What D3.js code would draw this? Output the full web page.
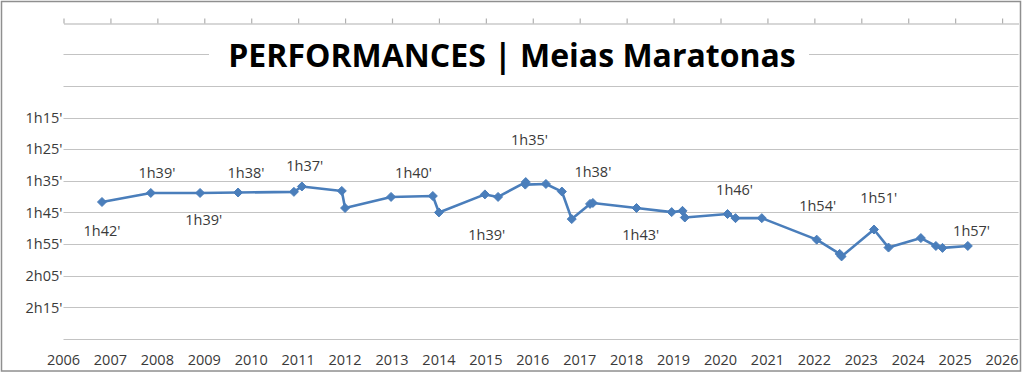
<!DOCTYPE html>
<html>
<head>
<meta charset="utf-8">
<script src="https://cdn.jsdelivr.net/npm/d3@7"></script>
<style>
  html, body { margin: 0; padding: 0; background: #fff; }
  svg { display: block; }
  text { font-family: "Open Sans", "Noto Sans", sans-serif; }
</style>
</head>
<body>
<svg id="chart" width="1024" height="382"></svg>
<script>
// ---- DATA ----
const chartTitle = "PERFORMANCES | Meias Maratonas";
const xTickYears = [2006, 2007, 2008, 2009, 2010, 2011, 2012, 2013, 2014, 2015, 2016,
                    2017, 2018, 2019, 2020, 2021, 2022, 2023, 2024, 2025, 2026];
const yTickMinutes = [75, 85, 95, 105, 115, 125, 135];
const gridMinutes = [55, 65, 75, 85, 95, 105, 115, 125, 135, 145];

// race dates (decimal years) and finish times (minutes)
const raceDates = [2006.82, 2007.86, 2008.91, 2009.72, 2010.91, 2011.08, 2011.93, 2012.00,
                   2012.98, 2013.87, 2014.00, 2014.98, 2015.26, 2015.85, 2015.84, 2016.28,
                   2016.62, 2016.83, 2017.22, 2017.28, 2018.21, 2018.96, 2019.19, 2019.24,
                   2020.15, 2020.32, 2020.88, 2022.05, 2022.54, 2022.58, 2023.27, 2023.58,
                   2024.27, 2024.59, 2024.73, 2025.27];
const raceTimes = [101.7, 98.85, 98.85, 98.7, 98.5, 96.8, 98.2, 103.6,
                   100.1, 99.8, 105.0, 99.3, 100.1, 95.4, 96.2, 96.0,
                   98.4, 107.1, 102.3, 102.0, 103.6, 104.9, 104.5, 106.6,
                   105.5, 106.8, 106.8, 113.6, 118.1, 118.9, 110.4, 116.1,
                   113.1, 115.6, 116.2, 115.6];

// annotation labels (text, date, time-position)
const noteTexts = ["1h42'", "1h39'", "1h39'", "1h38'", "1h37'", "1h40'", "1h39'",
                   "1h35'", "1h38'", "1h43'", "1h46'", "1h54'", "1h51'", "1h57'"];
const noteDates = [2006.82, 2007.99, 2008.99, 2009.89, 2011.14, 2013.46, 2015.02,
                   2015.93, 2017.28, 2018.30, 2020.30, 2022.07, 2023.37, 2025.35];
const noteTimes = [110.9, 92.5, 107.4, 92.5, 90.3, 92.5, 112.1,
                   82.1, 92.2, 112.1, 97.9, 103.0, 100.4, 110.9];

// ---- LAYOUT ----
const svg = d3.select("#chart");
const pLeft = 63.5, pRight = 1018.5, pTop = 22.6, pBottom = 339;
const x = d3.scaleLinear().domain([2006, 2026.35]).range([pLeft, pRight]);
const y = d3.scaleLinear().domain([45, 145]).range([pTop, pBottom]);
const fmt = m => `${Math.floor(m / 60)}h${String(Math.round(m % 60)).padStart(2, "0")}'`;

const gridColor = "#c3c3c3";
const textColor = "#3a3a3a";
const lineColor = "#4a7ebb";

// outer border
svg.append("rect")
  .attr("x", 1.5).attr("y", 1.5).attr("width", 1019).attr("height", 369.5)
  .attr("fill", "#fff").attr("stroke", "#8f8f8f").attr("stroke-width", 1.5);

// gridlines
svg.append("g").selectAll("line").data(gridMinutes).join("line")
  .attr("x1", pLeft).attr("x2", pRight)
  .attr("y1", d => Math.round(y(d)) + 0.5).attr("y2", d => Math.round(y(d)) + 0.5)
  .attr("stroke", gridColor).attr("stroke-width", 1.2);

// top category axis (reversed value axis crosses at top)
const topAxis = svg.append("g")
  .attr("transform", `translate(0,${Math.round(pTop) + 0.5})`)
  .call(d3.axisTop(x).tickValues(xTickYears).tickSize(5).tickSizeOuter(0).tickFormat(""));
topAxis.selectAll("path, line").attr("stroke", "#b0b0b0").attr("stroke-width", 1.2);

// y tick labels
svg.append("g").selectAll("text").data(yTickMinutes).join("text")
  .attr("x", pLeft - 1).attr("y", d => y(d))
  .attr("dy", "0.36em").attr("text-anchor", "end")
  .attr("font-size", 14.5).attr("fill", textColor)
  .text(fmt);

// x tick labels (low position)
svg.append("g").selectAll("text").data(xTickYears).join("text")
  .attr("x", d => x(d)).attr("y", 360)
  .attr("dy", "0.36em").attr("text-anchor", "middle")
  .attr("font-size", 14.5).attr("fill", textColor)
  .text(d => d);

// series line
const pts = raceDates.map((d, i) => [d, raceTimes[i]]);
svg.append("path").datum(pts)
  .attr("fill", "none").attr("stroke", lineColor).attr("stroke-width", 2.6)
  .attr("stroke-linejoin", "round")
  .attr("d", d3.line().x(d => x(d[0])).y(d => y(d[1])));

// diamond markers
const r = 4.5;
svg.append("g").selectAll("path").data(pts).join("path")
  .attr("transform", d => `translate(${x(d[0])},${y(d[1])})`)
  .attr("d", `M0,${-r}L${r},0L0,${r}L${-r},0Z`)
  .attr("fill", lineColor).attr("stroke", lineColor).attr("stroke-width", 1);

// annotation labels
svg.append("g").selectAll("text").data(noteTexts).join("text")
  .attr("x", (d, i) => x(noteDates[i])).attr("y", (d, i) => y(noteTimes[i]))
  .attr("dy", "0.36em").attr("text-anchor", "middle")
  .attr("font-size", 14.5).attr("fill", textColor)
  .text(d => d);

// title with white box over gridline
const titleG = svg.append("g");
const titleBox = titleG.append("rect").attr("fill", "#fff");
const title = titleG.append("text")
  .attr("x", 512).attr("y", 67).attr("text-anchor", "middle")
  .attr("font-size", 32).attr("font-weight", "bold").attr("fill", "#000")
  .text(chartTitle);
titleBox.attr("x", 209).attr("y", 36).attr("width", 600).attr("height", 40);
</script>
</body>
</html>
